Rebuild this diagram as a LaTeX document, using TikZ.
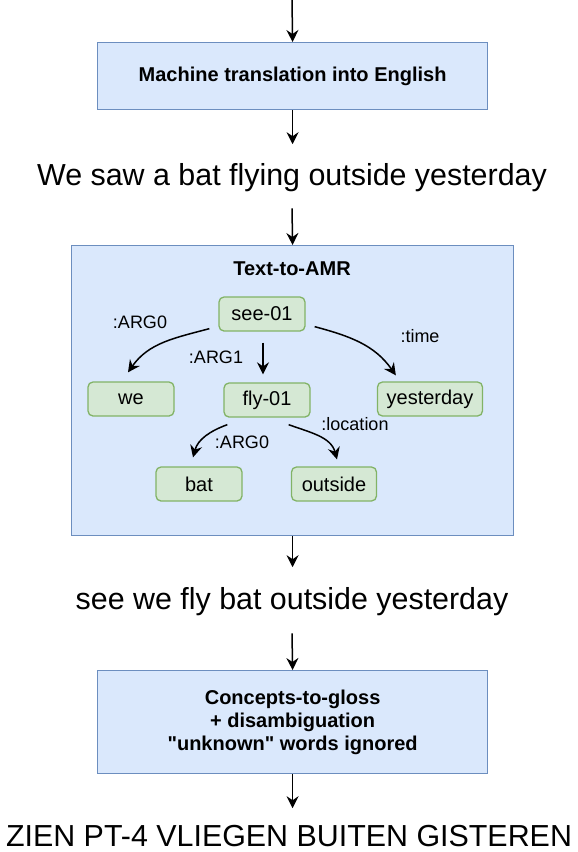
\documentclass[tikz,border=0pt]{standalone}
\usepackage{fontspec}
\setmainfont{Liberation Sans}[Ligatures=TeXOff]
\usetikzlibrary{arrows.meta,calc}
\definecolor{bfill}{HTML}{DAE8FC}
\definecolor{bline}{HTML}{6C8EBF}
\definecolor{gfill}{HTML}{D5E8D4}
\definecolor{gline}{HTML}{82B366}
\tikzset{
  procbox/.style={draw=bline,fill=bfill,line width=1.2pt,inner sep=0pt,anchor=north west},
  concept/.style={draw=gline,fill=gfill,line width=1.3pt,rounded corners=5pt,minimum width=86pt,minimum height=34pt,inner sep=0pt,font=\fontsize{20}{23}\selectfont},
  edgelbl/.style={font=\fontsize{18}{21}\selectfont,inner sep=0pt},
  bigtext/.style={font=\fontsize{30.4}{34}\selectfont,inner sep=0pt},
  flow/.style={line width=1.5pt,-{Stealth[length=12pt,width=12pt,inset=4pt]}},
  rel/.style={line width=1.5pt,-{Stealth[length=12pt,width=12pt,inset=4pt]}},
}
\begin{document}
\begin{tikzpicture}[x=1pt,y=1pt]
\useasboundingbox (0,0) rectangle (578,-852);
% boxes
\node[procbox,minimum width=390pt,minimum height=67pt] (mt) at (97,-42) {};
\node[font=\fontsize{20}{23}\selectfont\bfseries] (mtlbl) at (mt.center) {Machine translation into English};
\node[bigtext] (s1) at (292,-178) {We saw a bat flying outside yesterday};
\node[procbox,minimum width=442pt,minimum height=290pt] (amr) at (71,-245) {};
\node[font=\fontsize{20}{23}\selectfont\bfseries,inner sep=0pt] (amrlbl) at (292,-269) {Text-to-AMR};
\node[bigtext] (s2) at (292,-602) {see we fly bat outside yesterday};
\node[procbox,minimum width=390pt,minimum height=103pt] (cg) at (97,-670) {};
\node[font=\fontsize{20}{23}\selectfont\bfseries,align=center] (cglbl) at (cg.center) {Concepts-to-gloss\\+ disambiguation\\"unknown" words ignored};
\node[bigtext] (s3) at (289,-836) {ZIEN PT-4 VLIEGEN BUITEN GISTEREN};
\coordinate (top) at (292,0);
% flow arrows
\draw[flow] (top) -- (mt.north);
\draw[flow] (mt.south) -- ($(mt.south)+(0,-34)$) coordinate (a2);
\draw[flow] ($(s1.south)+(0,-16)$) coordinate (a3) -- (amr.north);
\draw[flow] (amr.south) -- ($(amr.south)+(0,-31)$) coordinate (a4);
\draw[flow] ($(s2.south)+(0,-17)$) coordinate (a5) -- (cg.north);
\draw[flow] (cg.south) -- ($(cg.south)+(0,-34)$) coordinate (a6);
% concepts
\node[concept] (see) at (262,-314) {see-01};
\node[concept] (we) at (131,-399) {we};
\node[concept] (fly) at (267,-400) {fly-01};
\node[concept,minimum width=105pt] (yes) at (430,-399) {yesterday};
\node[concept] (bat) at (199,-484) {bat};
\node[concept,minimum width=85pt] (out) at (334,-484) {outside};
% relations
\draw[rel] ($(see.south west)+(-9,3)$) to[out=195,in=55] ($(we.north)+(-3,9)$);
\draw[rel] ($(see.south)+(1,-11)$) -- ($(fly.north)+(-4,8)$);
\draw[rel] ($(see.south east)+(9,5)$) to[out=-15,in=125] ($(yes.north west)+(19,6)$);
\draw[rel] ($(fly.south west)+(4,-7)$) to[out=200,in=75] ($(bat.north)+(-6,9)$);
\draw[rel] ($(fly.south east)+(-22,-7)$) to[out=-20,in=105] ($(out.north)+(3,7)$);
% labels
\node[edgelbl] (l1) at (140,-322) {:ARG0};
\node[edgelbl] (l2) at (216,-357) {:ARG1};
\node[edgelbl] (l3) at (420,-336) {:time};
\node[edgelbl] (l4) at (355,-424) {:location};
\node[edgelbl] (l5) at (242,-442) {:ARG0};
\end{tikzpicture}
\end{document}
